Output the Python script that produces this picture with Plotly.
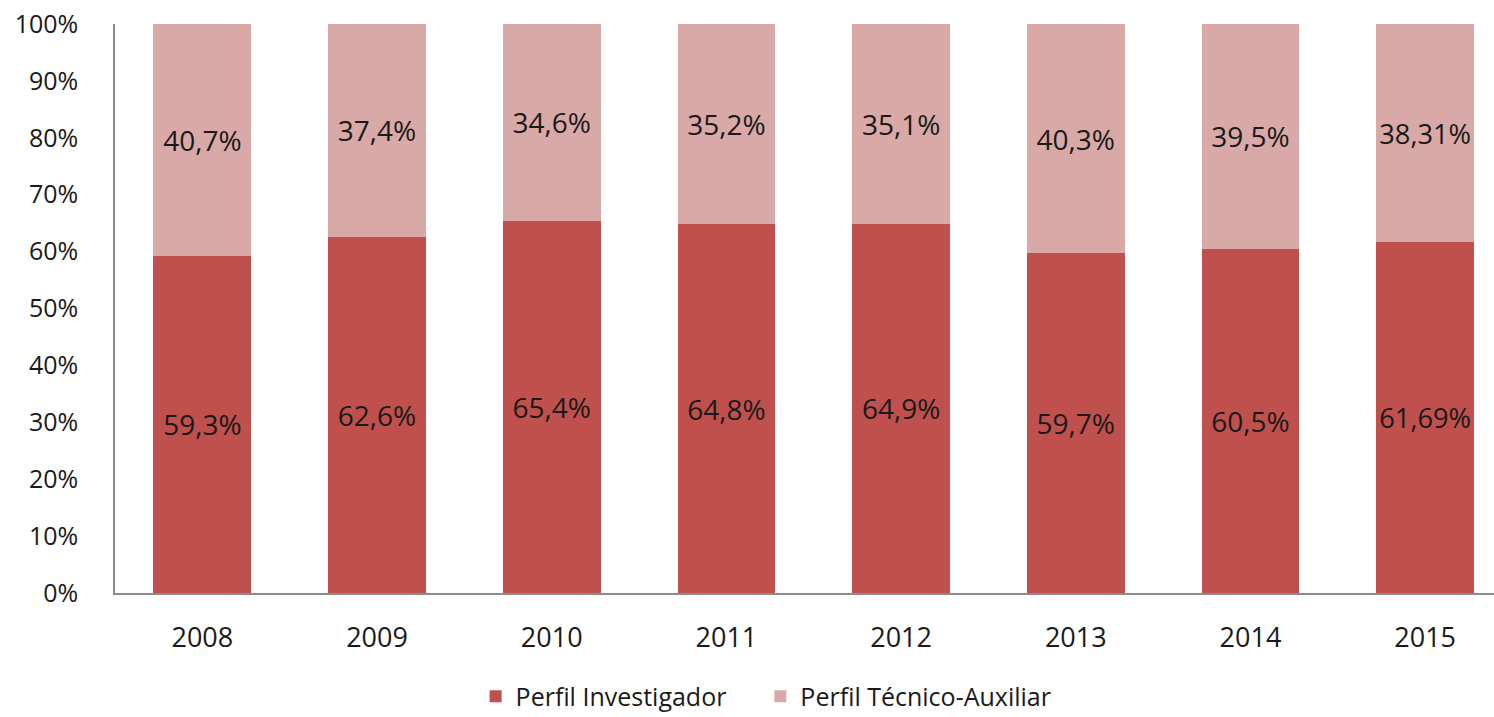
import plotly.graph_objects as go

years = ["2008", "2009", "2010", "2011", "2012", "2013", "2014", "2015"]
investigador = [59.3, 62.6, 65.4, 64.8, 64.9, 59.7, 60.5, 61.69]
tecnico = [40.7, 37.4, 34.6, 35.2, 35.1, 40.3, 39.5, 38.31]
inv_labels = ["59,3%", "62,6%", "65,4%", "64,8%", "64,9%", "59,7%", "60,5%", "61,69%"]
tec_labels = ["40,7%", "37,4%", "34,6%", "35,2%", "35,1%", "40,3%", "39,5%", "38,31%"]
series_names = ["Perfil Investigador", "Perfil Técnico-Auxiliar"]

FONT = "Open Sans"
TXT = "#1a1a1a"
fig = go.Figure()
fig.add_trace(go.Bar(
    x=years, y=investigador, name=series_names[0], legend="legend",
    marker=dict(color="#C0504D", line=dict(width=0)),
    text=inv_labels, textposition="inside", insidetextanchor="middle",
    textfont=dict(family=FONT, size=28, color=TXT), textangle=0,
))
fig.add_trace(go.Bar(
    x=years, y=tecnico, name=series_names[1], legend="legend2",
    marker=dict(color="#D9A9A8", line=dict(width=0)),
    text=tec_labels, textposition="inside", insidetextanchor="middle",
    textfont=dict(family=FONT, size=28, color=TXT), textangle=0,
))
leg = dict(orientation="h", xanchor="left", y=-0.182, yanchor="middle",
           font=dict(family=FONT, size=25, color=TXT), itemwidth=30,
           bgcolor="rgba(0,0,0,0)")
fig.update_layout(
    barmode="stack", bargap=0.44,
    width=1494, height=717,
    margin=dict(l=115, r=0, t=24, b=124, autoexpand=False),
    paper_bgcolor="white", plot_bgcolor="white",
    font=dict(family=FONT, size=26, color=TXT),
    uniformtext=dict(mode=False),
    legend=dict(leg, x=0.2615),
    legend2=dict(leg, x=0.468),
    showlegend=True,
)
fig.update_xaxes(type="category", range=[-0.5, 7.394], showline=True, linecolor="#8c8c8c",
                 linewidth=1.5, showgrid=False, ticks="", tickfont=dict(size=27),
                 ticklabelstandoff=20, automargin=False, ticklabeloverflow="allow")
fig.update_yaxes(range=[0, 100], dtick=10, ticksuffix="%", showline=True, linecolor="#8c8c8c",
                 linewidth=1.5, showgrid=False, zeroline=False, ticks="", tickfont=dict(size=25),
                 ticklabelstandoff=30, automargin=False, ticklabeloverflow="allow")
fig.write_html("out.html", config={"displayModeBar": False},
               post_script="document.body.style.margin='0';document.body.style.overflow='hidden';")
